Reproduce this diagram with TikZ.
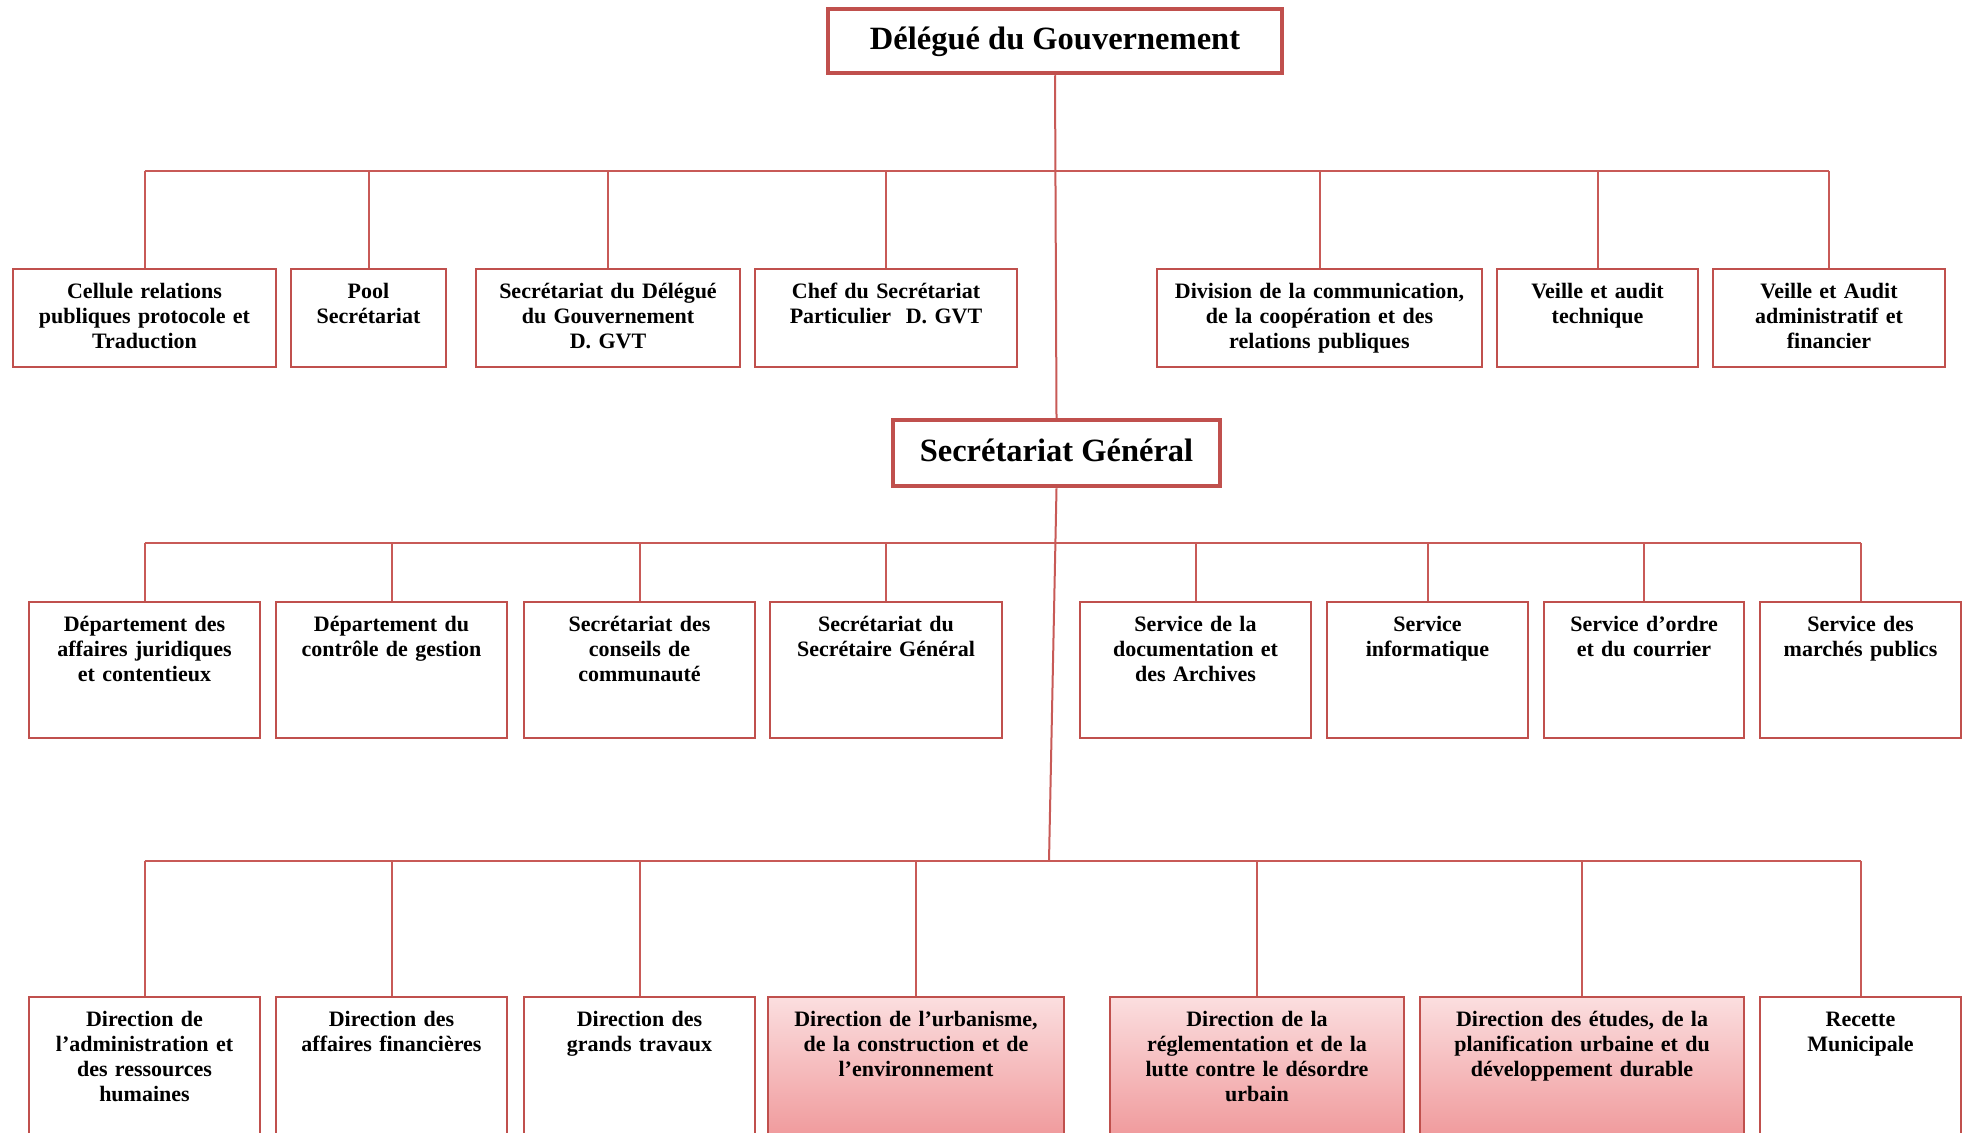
\documentclass[tikz,border=0pt]{standalone}
\usepackage{fontspec}
\setmainfont{Liberation Serif}
\definecolor{boxred}{HTML}{C0504D}
\definecolor{linered}{HTML}{C85A57}
\definecolor{gradtop}{HTML}{FBDEDF}
\definecolor{gradbot}{HTML}{F09A9C}
\begin{document}
\begin{tikzpicture}[x=1pt,y=-1pt,
  obox/.style={draw=boxred, line width=2.8pt, fill=white, inner sep=0pt},
  rowone/.style={obox, minimum height=98},
  rowtwo/.style={obox, minimum height=136},
  rowthree/.style={obox, minimum height=140},
  gbox/.style={rowthree, top color=gradtop, bottom color=gradbot},
  topbox/.style={draw=boxred, line width=4.5pt, fill=white, inner sep=0pt},
  toptext/.style={anchor=base, inner sep=0pt, font=\fontsize{32.5}{36}\selectfont\bfseries},
  otext/.style={anchor=north, inner sep=0pt, align=center,
    font=\fontsize{22}{25}\selectfont\bfseries, execute at begin node=\strut},
  conn/.style={draw=linered, line width=2pt}]
\useasboundingbox (0,0) rectangle (1969,1132);
\clip (0,0) rectangle (1969,1132);
\fill[white] (0,0) rectangle (1969,1132);

% top level
\node[topbox, minimum width=454, minimum height=64] (dg) at (1055,41) {};
\node[toptext] (dgt) at (1055,50) {Délégué du Gouvernement};
\node[topbox, minimum width=327, minimum height=66] (sg) at (1056.5,453) {};
\node[toptext] (sgt) at (1056.5,461) {Secrétariat Général};

% row 1
\node[rowone, minimum width=263] (a1) at (144.5,318) {};
\node[otext, text width=255] (a1t) at ([yshift=-13.5pt]a1.north) {Cellule relations\\publiques protocole et\\Traduction};
\node[rowone, minimum width=155] (a2) at (368.5,318) {};
\node[otext, text width=147] (a2t) at ([yshift=-13.5pt]a2.north) {Pool\\Secrétariat};
\node[rowone, minimum width=264] (a3) at (608,318) {};
\node[otext, text width=256] (a3t) at ([yshift=-13.5pt]a3.north) {Secrétariat du Délégué\\du Gouvernement\\D. GVT};
\node[rowone, minimum width=262] (a4) at (886,318) {};
\node[otext, text width=254] (a4t) at ([yshift=-13.5pt]a4.north) {Chef du Secrétariat\\Particulier~~D. GVT};
\node[rowone, minimum width=325] (a5) at (1319.5,318) {};
\node[otext, text width=317] (a5t) at ([yshift=-13.5pt]a5.north) {Division de la communication,\\de la coopération et des\\relations publiques};
\node[rowone, minimum width=201] (a6) at (1597.5,318) {};
\node[otext, text width=193] (a6t) at ([yshift=-13.5pt]a6.north) {Veille et audit\\technique};
\node[rowone, minimum width=232] (a7) at (1829,318) {};
\node[otext, text width=224] (a7t) at ([yshift=-13.5pt]a7.north) {Veille et Audit\\administratif et\\financier};

% row 2
\node[rowtwo, minimum width=231] (b1) at (144.5,670) {};
\node[otext, text width=223] (b1t) at ([yshift=-13.5pt]b1.north) {Département des\\affaires juridiques\\et contentieux};
\node[rowtwo, minimum width=231] (b2) at (391.5,670) {};
\node[otext, text width=223] (b2t) at ([yshift=-13.5pt]b2.north) {Département du\\contrôle de gestion};
\node[rowtwo, minimum width=231] (b3) at (639.5,670) {};
\node[otext, text width=223] (b3t) at ([yshift=-13.5pt]b3.north) {Secrétariat des\\conseils de\\communauté};
\node[rowtwo, minimum width=232] (b4) at (886,670) {};
\node[otext, text width=224] (b4t) at ([yshift=-13.5pt]b4.north) {Secrétariat du\\Secrétaire Général};
\node[rowtwo, minimum width=231] (b5) at (1195.5,670) {};
\node[otext, text width=223] (b5t) at ([yshift=-13.5pt]b5.north) {Service de la\\documentation et\\des Archives};
\node[rowtwo, minimum width=201] (b6) at (1427.5,670) {};
\node[otext, text width=193] (b6t) at ([yshift=-13.5pt]b6.north) {Service\\informatique};
\node[rowtwo, minimum width=200] (b7) at (1644,670) {};
\node[otext, text width=192] (b7t) at ([yshift=-13.5pt]b7.north) {Service d’ordre\\et du courrier};
\node[rowtwo, minimum width=201] (b8) at (1860.5,670) {};
\node[otext, text width=193] (b8t) at ([yshift=-13.5pt]b8.north) {Service des\\marchés publics};

% row 3
\node[rowthree, minimum width=231] (c1) at (144.5,1067) {};
\node[otext, text width=223] (c1t) at ([yshift=-13.5pt]c1.north) {Direction de\\l’administration et\\des ressources\\humaines};
\node[rowthree, minimum width=231] (c2) at (391.5,1067) {};
\node[otext, text width=223] (c2t) at ([yshift=-13.5pt]c2.north) {Direction des\\affaires financières};
\node[rowthree, minimum width=231] (c3) at (639.5,1067) {};
\node[otext, text width=223] (c3t) at ([yshift=-13.5pt]c3.north) {Direction des\\grands travaux};
\node[gbox, minimum width=296] (c4) at (916,1067) {};
\node[otext, text width=288] (c4t) at ([yshift=-13.5pt]c4.north) {Direction de l’urbanisme,\\de la construction et de\\l’environnement};
\node[gbox, minimum width=294] (c5) at (1257,1067) {};
\node[otext, text width=286] (c5t) at ([yshift=-13.5pt]c5.north) {Direction de la\\réglementation et de la\\lutte contre le désordre\\urbain};
\node[gbox, minimum width=324] (c6) at (1582,1067) {};
\node[otext, text width=316] (c6t) at ([yshift=-13.5pt]c6.north) {Direction des études, de la\\planification urbaine et du\\développement durable};
\node[rowthree, minimum width=201] (c7) at (1860.5,1067) {};
\node[otext, text width=193] (c7t) at ([yshift=-13.5pt]c7.north) {Recette\\Municipale};

% connectors
\coordinate (bus1l) at (144.5,171);
\coordinate (bus1r) at (1829,171);
\coordinate (bus2l) at (144.5,543);
\coordinate (bus2r) at (1860.5,543);
\coordinate (bus3l) at (144.5,861);
\coordinate (bus3r) at (1860.5,861);
\coordinate (bus3m) at (1049,861);

\draw[conn] (bus1l) -- (bus1r);
\draw[conn] (bus2l) -- (bus2r);
\draw[conn] (bus3l) -- (bus3r);
\draw[conn] (dg.south) -- (sg.north);
\draw[conn] (sg.south) -- (bus3m);
\foreach \n in {a1,a2,a3,a4,a5,a6,a7}
  \draw[conn] (\n.north) -- (\n.north |- bus1l);
\foreach \n in {b1,b2,b3,b4,b5,b6,b7,b8}
  \draw[conn] (\n.north) -- (\n.north |- bus2l);
\foreach \n in {c1,c2,c3,c4,c5,c6,c7}
  \draw[conn] (\n.north) -- (\n.north |- bus3l);
\end{tikzpicture}
\end{document}
